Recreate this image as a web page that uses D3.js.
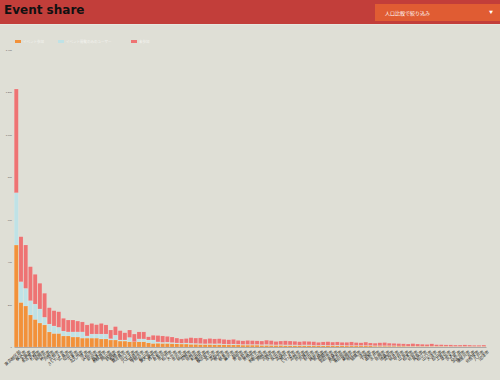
<!DOCTYPE html>
<html>
<head>
<meta charset="utf-8">
<script src="https://cdn.jsdelivr.net/npm/d3@7"></script>
<style>
  body { margin: 0; background: #dfdfd6; font-family: "Noto Sans CJK JP", "Noto Sans", sans-serif; overflow: hidden; }
  .header { position: absolute; left: 0; top: 0; width: 500px; height: 24px; background: #c23e3a; border-bottom: 1px solid #e6e6e0; }
  .header h1 { margin: 0; position: absolute; left: 4px; top: 3px; font-size: 12px; font-weight: bold; color: #111; font-family: "DejaVu Sans", sans-serif; }
  .select { position: absolute; left: 375px; top: 4px; width: 125px; height: 17px; background: #e05c33; color: #fff; font-size: 5px; }
  .select span { position: absolute; left: 10px; top: 5px; }
  .select i { position: absolute; right: 7px; top: 5px; font-style: normal; font-size: 4px; }
</style>
</head>
<body>
<div class="header"><h1>Event share</h1><div class="select"><span>人口比較で絞り込み</span><i>▼</i></div></div>
<div id="chart"></div>
<script>
const width = 500;
const height = 380;

const seriesNames = ["イベント参加", "イベント閲覧のみのユーザー", "未参加"];
const colours = ["#f2913a", "#bfe2e6", "#ee7373"];

const categories = [
  "東京都区部","横浜市","大阪市","名古屋市","札幌市","福岡市","神戸市","川崎市","京都市","さいたま市",
  "広島市","仙台市","千葉市","北九州市","堺市","浜松市","新潟市","熊本市","相模原市","岡山市",
  "静岡市","船橋市","鹿児島市","川口市","八王子市","姫路市","宇都宮市","松山市","東大阪市","西宮市",
  "倉敷市","市川市","松戸市","大分市","金沢市","福山市","尼崎市","長崎市","町田市","豊田市",
  "横須賀市","富山市","高松市","枚方市","岐阜市","藤沢市","柏市","豊中市","長野市","豊橋市",
  "一宮市","和歌山市","岡崎市","宮崎市","奈良市","吹田市","高槻市","旭川市","いわき市","高崎市",
  "所沢市","川越市","秋田市","越谷市","前橋市","那覇市","四日市市","青森市","久留米市","春日部市",
  "盛岡市","明石市","福島市","津市","下関市","函館市","水戸市","長岡市","徳島市","高知市",
  "福井市","甲府市","山形市","松本市","佐賀市","鳥取市","松江市","山口市","大津市","郡山市",
  "上尾市","草加市","茨木市","八尾市","加古川市","寝屋川市","呉市","佐世保市","八戸市","沼津市"
];

// values
const joined = [
  480,210,193,151,130,113,104,71,64,64, 52,52,47,47,42,42,42,42,38,38,
  33,33,28,28,25,25,25,25,20,17, 18,17,17,16,15,14,14,13,13,12,
  12,12,11,11,11,10,10,10,9,9, 9,9,8,8,8,8,8,7,7,7,
  7,7,7,6,6,6,6,6,6,6, 5,5,5,5,5,5,4,4,4,4,
  4,4,4,3,3,3,3,3,3,3, 3,3,2,2,2,2,2,2,2,2
];
const viewed = [
  246,97,83,67,72,66,36,37,35,29, 23,19,24,24,29,10,19,19,23,23,
  6,23,5,5,20,0,13,13,13,16, 6,5,6,5,4,4,5,5,4,4,
  3,4,4,5,3,3,4,3,3,3, 3,3,3,4,3,2,3,3,3,3,
  2,3,3,2,2,3,2,2,3,2, 2,2,2,2,2,2,2,2,2,2,
  2,1,1,1,1,1,1,1,1,1, 1,1,1,1,1,1,1,1,1,1
];
const notJoined = [
  488,212,204,160,140,121,113,77,72,73, 60,56,56,51,47,52,50,44,50,43,
  41,40,44,34,35,36,33,33,15,22, 30,30,27,26,23,20,21,26,25,27,
  22,24,23,23,22,21,22,18,17,19, 18,17,17,20,19,16,17,19,18,17,
  16,17,16,17,14,15,17,15,15,14, 15,17,14,13,16,12,12,14,15,12,
  11,11,10,10,12,10,9,8,11,7, 7,6,7,6,6,7,6,5,5,6
];
const yTicks = [0, 200, 400, 600, 800, 1000, 1200, 1400];

const rows = categories.map((c, i) => ({ name: c, s0: joined[i], s1: viewed[i], s2: notJoined[i] }));
const stack = d3.stack().keys(["s0", "s1", "s2"]);
const stacked = stack(rows);

const svg = d3.select("#chart")
    .append("svg")
    .attr("width", width)
    .attr("height", height)
    .style("position", "absolute")
    .style("left", 0)
    .style("top", 0);

const x = d3.scaleBand()
    .domain(categories)
    .range([14, 486])
    .paddingInner(0.14)
    .paddingOuter(0.05);

const y = d3.scaleLinear()
    .domain([0, 1400])
    .range([347, 49.5]);

// legend
const legend = svg.append("g").attr("transform", "translate(15,42)");
const legendX = [0, 43, 116];
seriesNames.forEach((n, i) => {
  const g = legend.append("g").attr("transform", `translate(${legendX[i]},0)`);
  g.append("rect").attr("width", 6).attr("height", 3).attr("y", -2).attr("fill", colours[i]);
  g.append("text").attr("x", 8).attr("y", 1).attr("font-size", 3.5).attr("fill", "#f4f4f0").text(n);
});

// bars
svg.append("g")
  .selectAll("g")
  .data(stacked)
  .join("g")
    .attr("fill", (d, i) => colours[i])
  .selectAll("rect")
  .data(d => d)
  .join("rect")
    .attr("x", d => x(d.data.name))
    .attr("y", d => y(d[1]))
    .attr("height", d => y(d[0]) - y(d[1]))
    .attr("width", x.bandwidth())
    .attr("stroke", "#fff")
    .attr("stroke-opacity", 0.25)
    .attr("stroke-width", 0.4);

// y axis
const yAxis = svg.append("g")
    .attr("transform", "translate(13,0)")
    .call(d3.axisLeft(y).tickValues(yTicks).tickSize(0).tickPadding(1).tickFormat(d3.format(",")));
yAxis.select(".domain").remove();
yAxis.selectAll("text").attr("font-size", 2.5).attr("fill", "#555");

// x axis
const xAxis = svg.append("g")
    .attr("transform", "translate(0,347)")
    .call(d3.axisBottom(x).tickSize(0).tickPadding(2));
xAxis.select(".domain").attr("stroke", "#aaa").attr("stroke-width", 1);
xAxis.selectAll("text")
    .attr("font-size", 4.2)
    .attr("fill", "#111")
    .attr("text-anchor", "end")
    .attr("transform", "translate(2,2) rotate(-40)");
</script>
</body>
</html>
